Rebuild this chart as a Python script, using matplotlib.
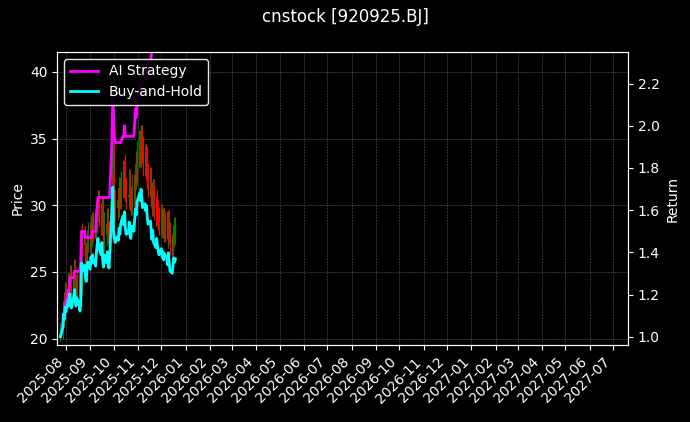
import matplotlib
matplotlib.use("Agg")
import matplotlib.pyplot as plt
import matplotlib.dates as mdates
from matplotlib.ticker import MultipleLocator
import numpy as np
import pandas as pd

dates = pd.bdate_range("2025-07-25", "2025-12-19")
close = [20.6,
 21.5, 22.8, 22.3, 23.5, 23.0,
 24.2, 23.6, 24.8, 24.0, 23.4,
 24.5, 25.2, 24.1, 23.6, 24.4,
 23.8, 23.1, 24.0, 27.8, 27.0,
 27.6, 26.4, 26.0, 27.3, 27.9,
 27.2, 28.4, 27.8, 28.6, 28.1,
 27.5, 28.8, 29.6, 30.2, 29.3,
 28.6, 29.8, 28.2, 27.4, 28.6,
 27.8, 28.9, 28.0, 27.3, 28.4,
 33.5, 35.2, 31.0, 30.2, 29.8,
 30.4, 30.0, 31.2, 30.6, 31.6,
 32.4, 31.5, 32.8, 31.2, 30.6,
 30.8, 31.8, 30.5, 30.2, 31.4,
 30.9, 32.2, 33.1, 32.5, 33.8,
 34.6, 33.9, 35.0, 34.2, 33.2,
 33.6, 32.9, 33.4, 32.2, 31.6,
 31.9, 30.8, 30.1, 31.0, 29.8,
 29.3, 30.2, 29.5, 29.0, 28.6,
 29.2, 28.4, 28.9, 28.1, 28.7,
 28.3, 27.6, 28.8, 27.9, 27.0,
 26.8, 27.7, 28.3, 27.9, 28.2]
strategy = [1.0,
 1.04, 1.11, 1.11, 1.16, 1.16,
 1.22, 1.22, 1.28, 1.28, 1.28,
 1.28, 1.31, 1.31, 1.31, 1.31,
 1.31, 1.31, 1.36, 1.50, 1.50,
 1.50, 1.47, 1.47, 1.47, 1.47,
 1.47, 1.47, 1.47, 1.50, 1.50,
 1.50, 1.58, 1.62, 1.66, 1.66,
 1.66, 1.66, 1.66, 1.66, 1.66,
 1.66, 1.66, 1.66, 1.66, 1.66,
 1.95, 2.17, 2.05, 1.95, 1.92,
 1.92, 1.92, 1.92, 1.92, 1.92,
 1.95, 1.95, 2.00, 1.95, 1.95,
 1.95, 1.95, 1.95, 1.95, 1.95,
 1.95, 2.02, 2.08, 2.04, 2.12,
 2.17, 2.14, 2.20, 2.20, 2.20,
 2.22, 2.25, 2.25, 2.28, 2.30,
 2.30, 2.33, 2.36, 2.36, 2.40,
 2.42, 2.42, 2.42, 2.42, 2.42,
 2.42, 2.42, 2.42, 2.42, 2.42,
 2.42, 2.42, 2.42, 2.42, 2.42,
 2.42, 2.42, 2.42, 2.42, 2.42]

close = np.array(close)
open_ = np.concatenate([[close[0] * 0.99], close[:-1]])
high = np.maximum(open_, close) * 1.03
low = np.minimum(open_, close) * 0.97
bh = close / close[0]

plt.style.use("dark_background")
fig, ax = plt.subplots(figsize=(6.9, 4.22), dpi=100)
fig.patch.set_facecolor("black")
ax.set_facecolor("black")
x = mdates.date2num(dates)
cols = np.where(close >= open_, "#008000", "#ff0000")
ax.vlines(x, low, high, colors=cols, linewidth=0.8)
ax.bar(x, np.abs(close - open_), bottom=np.minimum(open_, close), width=0.8, color=cols)
ax.set_ylabel("Price")
ax.set_ylim(19.5, 41.5)
ax.yaxis.set_major_locator(MultipleLocator(5))
ax.grid(True, color="grey", linestyle="--", linewidth=0.4, alpha=0.7)

ax2 = ax.twinx()
ax2.plot(dates, strategy, color="magenta", linewidth=2, label="AI Strategy")
ax2.plot(dates, bh, color="cyan", linewidth=2, label="Buy-and-Hold")
ax2.set_ylim(0.96, 2.35)
ax2.set_ylabel("Return")
ax2.legend(loc="upper left", facecolor="black", edgecolor="white", framealpha=0.9)

ax.set_xlim(mdates.datestr2num("2025-07-21"), mdates.datestr2num("2027-07-20"))
ax.xaxis.set_major_locator(mdates.MonthLocator())
ax.xaxis.set_major_formatter(mdates.DateFormatter("%Y-%m"))
plt.setp(ax.get_xticklabels(), rotation=45, ha="right")
fig.suptitle("cnstock [920925.BJ]")
fig.subplots_adjust(left=0.083, right=0.91, top=0.877, bottom=0.182)
fig.savefig("out.png", dpi=100, facecolor="black")
